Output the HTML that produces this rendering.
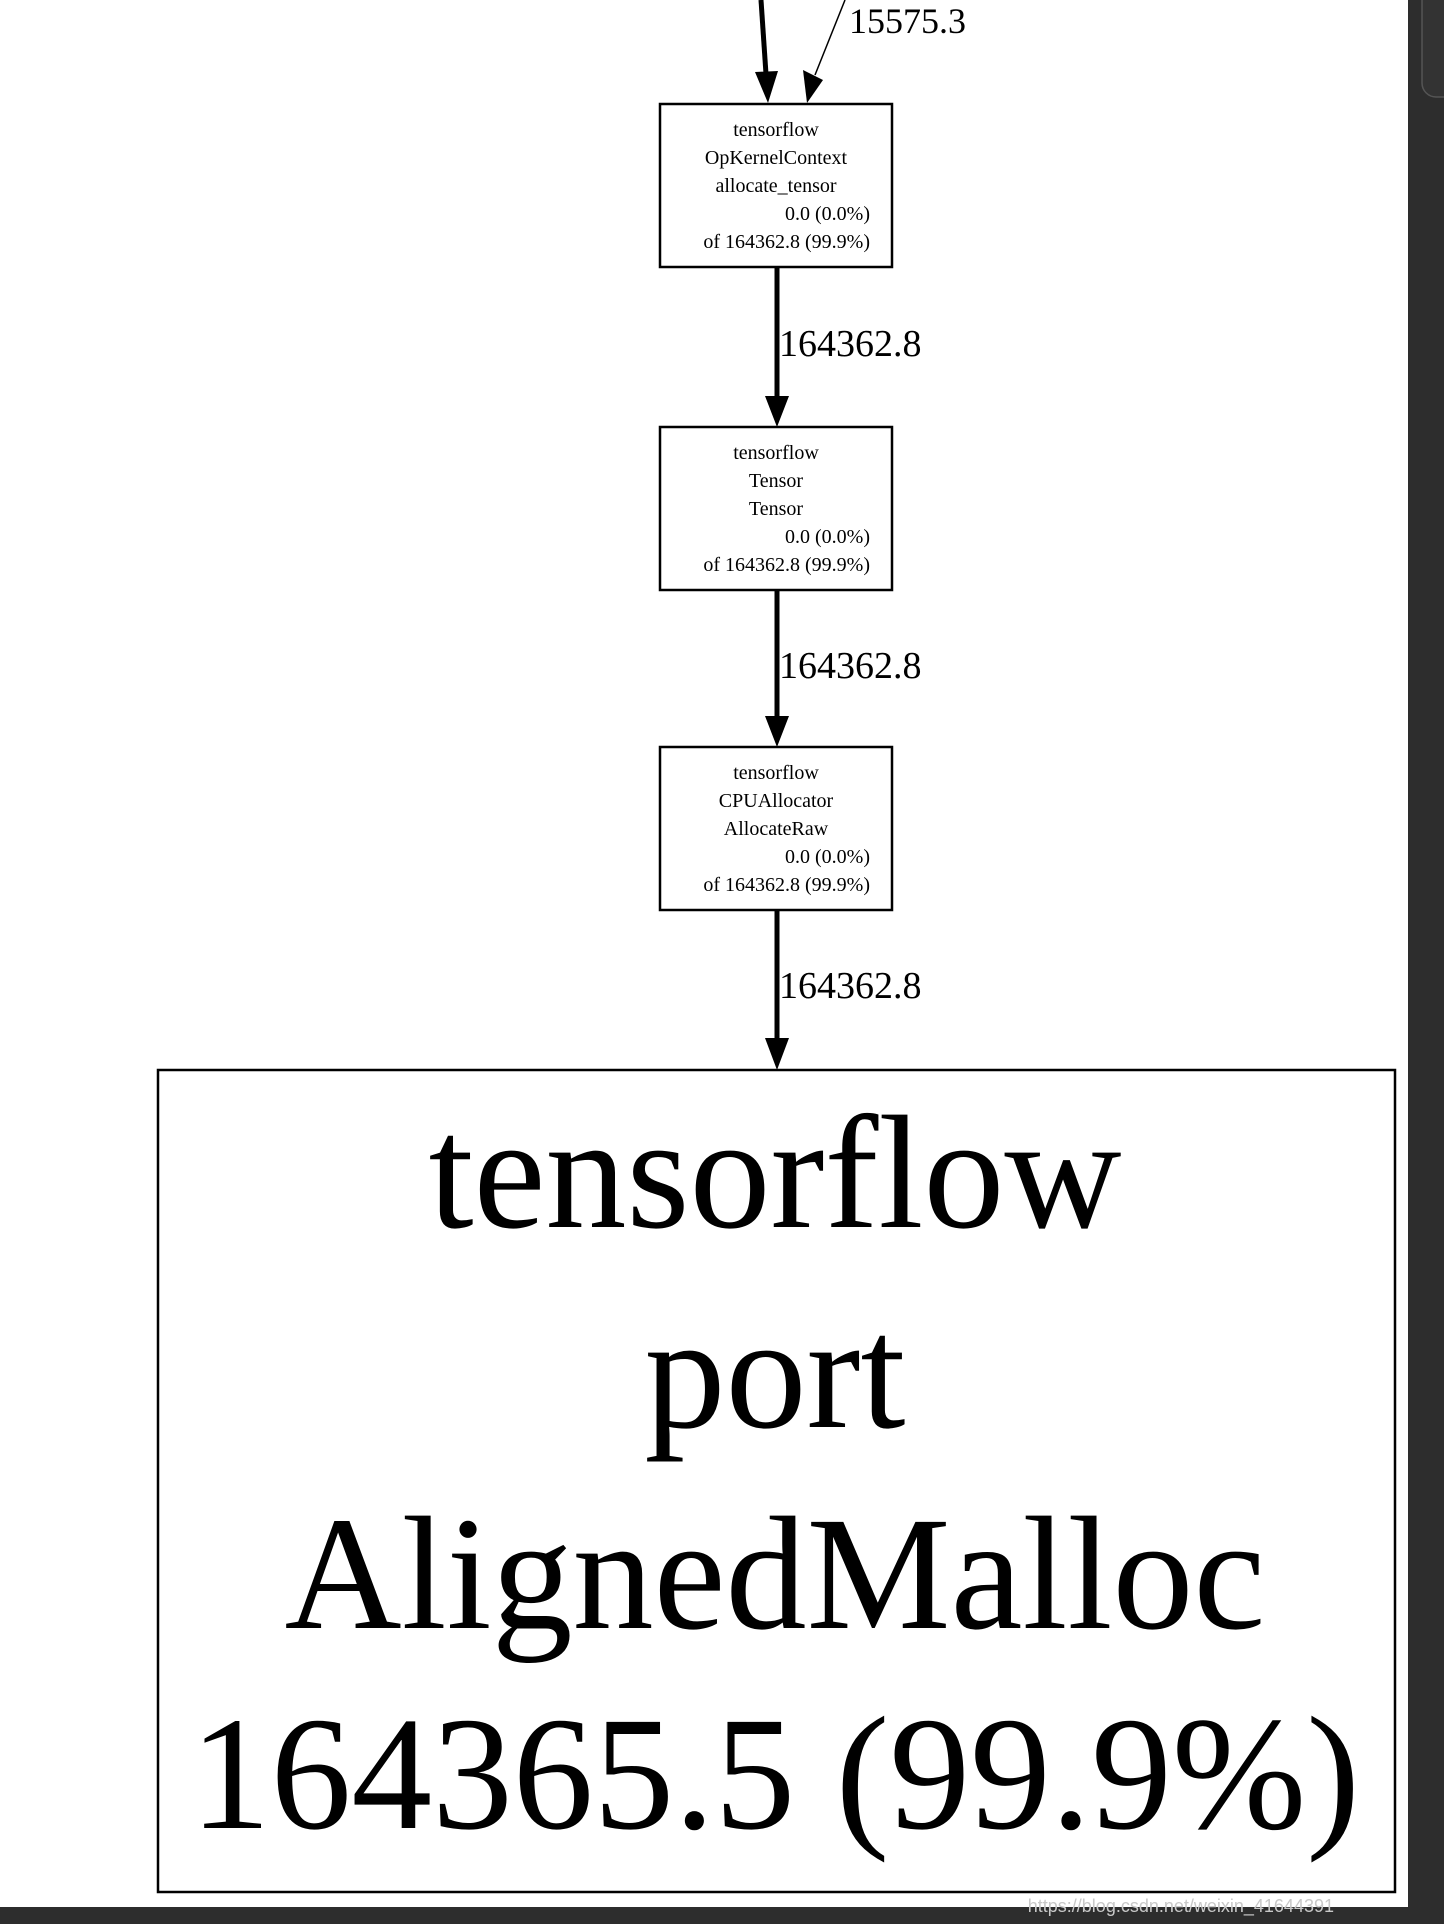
<!DOCTYPE html>
<html><head><meta charset="utf-8"><style>
html,body{margin:0;padding:0;background:#fff;width:1444px;height:1924px;overflow:hidden}
svg{display:block}
text{font-family:"Liberation Serif",serif;fill:#000}
</style></head><body>
<svg width="1444" height="1924" viewBox="0 0 1444 1924" xmlns="http://www.w3.org/2000/svg">
<rect x="0" y="0" width="1444" height="1924" fill="#fff"/>
<!-- top edges -->
<line x1="761" y1="0" x2="766" y2="74" stroke="#000" stroke-width="5"/>
<polygon points="755,72 778,71 768,103" fill="#000"/>
<line x1="845" y1="0" x2="815" y2="75" stroke="#000" stroke-width="1.5"/>
<polygon points="803,70 823,80 807,103" fill="#000"/>
<text x="849" y="33" font-size="36">15575.3</text>
<!-- node 1 -->
<rect x="660" y="104" width="232" height="163" fill="#fff" stroke="#000" stroke-width="2.5"/>
<g font-size="20">
<text x="776" y="136" text-anchor="middle">tensorflow</text>
<text x="776" y="164" text-anchor="middle">OpKernelContext</text>
<text x="776" y="192" text-anchor="middle">allocate_tensor</text>
<text x="870" y="220" text-anchor="end">0.0 (0.0%)</text>
<text x="870" y="248" text-anchor="end">of 164362.8 (99.9%)</text>
</g>
<line x1="777" y1="267" x2="777" y2="398" stroke="#000" stroke-width="5"/>
<polygon points="765,396 789,396 777,427" fill="#000"/>
<text x="779" y="356" font-size="38">164362.8</text>
<!-- node 2 -->
<rect x="660" y="427" width="232" height="163" fill="#fff" stroke="#000" stroke-width="2.5"/>
<g font-size="20">
<text x="776" y="459" text-anchor="middle">tensorflow</text>
<text x="776" y="487" text-anchor="middle">Tensor</text>
<text x="776" y="515" text-anchor="middle">Tensor</text>
<text x="870" y="543" text-anchor="end">0.0 (0.0%)</text>
<text x="870" y="571" text-anchor="end">of 164362.8 (99.9%)</text>
</g>
<line x1="777" y1="590" x2="777" y2="718" stroke="#000" stroke-width="5"/>
<polygon points="765,716 789,716 777,747" fill="#000"/>
<text x="779" y="678" font-size="38">164362.8</text>
<!-- node 3 -->
<rect x="660" y="747" width="232" height="163" fill="#fff" stroke="#000" stroke-width="2.5"/>
<g font-size="20">
<text x="776" y="779" text-anchor="middle">tensorflow</text>
<text x="776" y="807" text-anchor="middle">CPUAllocator</text>
<text x="776" y="835" text-anchor="middle">AllocateRaw</text>
<text x="870" y="863" text-anchor="end">0.0 (0.0%)</text>
<text x="870" y="891" text-anchor="end">of 164362.8 (99.9%)</text>
</g>
<line x1="777" y1="910" x2="777" y2="1040" stroke="#000" stroke-width="5"/>
<polygon points="765,1038 789,1038 777,1070" fill="#000"/>
<text x="779" y="998" font-size="38">164362.8</text>
<!-- big node -->
<rect x="158" y="1070" width="1237" height="822" fill="#fff" stroke="#000" stroke-width="2.5"/>
<g font-size="162" text-anchor="middle">
<text x="775" y="1227">tensorflow</text>
<text x="775" y="1427">port</text>
<text x="775" y="1628">AlignedMalloc</text>
<text x="775" y="1828" textLength="1170" lengthAdjust="spacingAndGlyphs">164365.5 (99.9%)</text>
</g>
<!-- chrome -->
<rect x="1408" y="0" width="36" height="1924" fill="#2d2d2d"/>
<rect x="1422" y="-20" width="40" height="117" rx="14" fill="#333" stroke="#555" stroke-width="1.5"/>
<rect x="0" y="1907" width="1444" height="17" fill="#2d2d2d"/>
<text x="1334" y="1912" font-family="Liberation Sans,sans-serif" font-size="18" fill="#bbb" style="fill:#c8c8c8;font-family:'Liberation Sans',sans-serif" text-anchor="end">https://blog.csdn.net/weixin_41644391</text>
</svg>
</body></html>
